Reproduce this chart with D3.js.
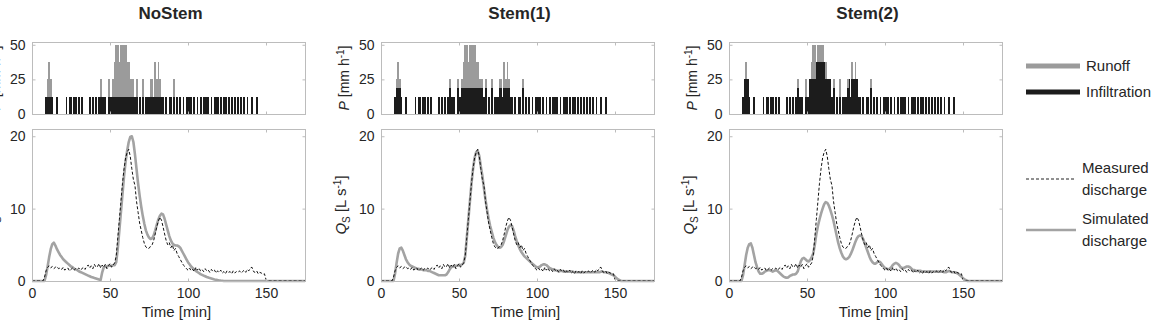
<!DOCTYPE html>
<html>
<head>
<meta charset="utf-8">
<script src="https://cdn.jsdelivr.net/npm/d3@7"></script>
<style>
  body { margin: 0; background: #fff; }
  text { font-family: "Liberation Sans", Arial, sans-serif; fill: #262626; }
</style>
</head>
<body>
<svg id="fig" width="1157" height="323"></svg>
<script>
// rainfall intensity P [mm/h], one value per minute, 0..150
const rain = [
  0,0,0,0,0,0,0,0,0,12.5,
  25,37.5,25,12.5,0,0,12.5,0,0,0,
  0,0,12.5,0,12.5,12.5,0,12.5,12.5,0,
  12.5,0,12.5,0,0,0,0,12.5,0,12.5,
  0,12.5,0,12.5,25,12.5,12.5,12.5,0,25,
  12.5,12.5,25,37.5,50,50,37.5,50,50,50,
  50,37.5,37.5,25,25,25,12.5,25,0,12.5,
  0,25,0,12.5,12.5,12.5,25,25,12.5,37.5,
  25,37.5,25,12.5,12.5,0,12.5,0,12.5,12.5,
  0,25,0,12.5,0,12.5,0,12.5,0,12.5,
  12.5,12.5,12.5,0,12.5,0,12.5,0,12.5,0,
  12.5,12.5,12.5,12.5,0,12.5,0,12.5,12.5,12.5,
  0,12.5,0,12.5,12.5,0,12.5,0,12.5,0,
  12.5,0,12.5,0,12.5,0,12.5,0,12.5,0,
  0,12.5,0,0,12.5,0,0,0,0,0,0
];

// infiltrated part of the rainfall, per scenario (rest is runoff)
const infilNoStem = [
  0,0,0,0,0,0,0,0,0,12.5,
  12.5,12.5,12.5,12.5,0,0,12.5,0,0,0,
  0,0,12.5,0,12.5,12.5,0,12.5,12.5,0,
  12.5,0,12.5,0,0,0,0,12.5,0,12.5,
  0,12.5,0,12.5,12.5,12.5,12.5,12.5,0,12.5,
  12.5,12.5,12.5,12.5,12.5,12.5,12.5,12.5,12.5,12.5,
  12.5,12.5,12.5,12.5,12.5,12.5,12.5,12.5,0,12.5,
  0,12.5,0,12.5,12.5,12.5,12.5,12.5,12.5,12.5,
  12.5,12.5,12.5,12.5,12.5,0,12.5,0,12.5,12.5,
  0,12.5,0,12.5,0,12.5,0,12.5,0,12.5,
  12.5,12.5,12.5,0,12.5,0,12.5,0,12.5,0,
  12.5,12.5,12.5,12.5,0,12.5,0,12.5,12.5,12.5,
  0,12.5,0,12.5,12.5,0,12.5,0,12.5,0,
  12.5,0,12.5,0,12.5,0,12.5,0,12.5,0,
  0,12.5,0,0,12.5,0,0,0,0,0,0
];
const infilStem1 = [
  0,0,0,0,0,0,0,0,0,12.5,
  18.75,18.75,18.75,12.5,0,0,12.5,0,0,0,
  0,0,12.5,0,12.5,12.5,0,12.5,12.5,0,
  12.5,0,12.5,0,0,0,0,12.5,0,12.5,
  0,12.5,0,12.5,18.75,12.5,12.5,12.5,0,18.75,
  12.5,12.5,18.75,18.75,18.75,18.75,18.75,18.75,18.75,18.75,
  18.75,18.75,18.75,18.75,18.75,18.75,12.5,18.75,0,12.5,
  0,18.75,0,12.5,12.5,12.5,18.75,18.75,12.5,18.75,
  18.75,18.75,18.75,12.5,12.5,0,12.5,0,12.5,12.5,
  0,18.75,0,12.5,0,12.5,0,12.5,0,12.5,
  12.5,12.5,12.5,0,12.5,0,12.5,0,12.5,0,
  12.5,12.5,12.5,12.5,0,12.5,0,12.5,12.5,12.5,
  0,12.5,0,12.5,12.5,0,12.5,0,12.5,0,
  12.5,0,12.5,0,12.5,0,12.5,0,12.5,0,
  0,12.5,0,0,12.5,0,0,0,0,0,0
];
const infilStem2 = [
  0,0,0,0,0,0,0,0,0,12.5,
  25,25,25,12.5,0,0,12.5,0,0,0,
  0,0,12.5,0,12.5,12.5,0,12.5,12.5,0,
  12.5,0,12.5,0,0,0,0,12.5,0,12.5,
  0,12.5,0,12.5,18.75,12.5,12.5,12.5,0,12.5,
  12.5,12.5,25,25,25,25,37.5,37.5,37.5,37.5,
  37.5,37.5,25,25,25,25,12.5,18.75,0,12.5,
  0,12.5,0,12.5,12.5,12.5,18.75,25,12.5,25,
  25,25,25,12.5,12.5,0,12.5,0,12.5,12.5,
  0,18.75,0,12.5,0,12.5,0,12.5,0,12.5,
  12.5,12.5,12.5,0,12.5,0,12.5,0,12.5,0,
  12.5,12.5,12.5,12.5,0,12.5,0,12.5,12.5,12.5,
  0,12.5,0,12.5,12.5,0,12.5,0,12.5,0,
  12.5,0,12.5,0,12.5,0,12.5,0,12.5,0,
  0,12.5,0,0,12.5,0,0,0,0,0,0
];

// discharge Qs [L/s], one value per minute, 0..175
const measured = [
  0,0,0,0,0,0,0,0,0.5,1.4,
  1.9,2.1,1.8,2.0,1.7,1.9,2.0,1.7,1.8,1.6,
  1.9,1.5,1.7,1.8,1.4,1.6,1.8,1.5,1.7,1.6,
  1.8,1.5,1.7,1.9,1.6,2.0,2.2,1.8,2.1,1.7,
  2.3,1.9,2.0,2.4,1.8,2.2,1.9,2.3,1.7,2.1,
  2.4,1.9,2.2,2.5,3.5,6.0,8.5,11.0,13.5,15.5,
  17.0,17.8,18.2,17.2,15.5,14.0,13.2,11.0,9.5,8.0,
  7.0,6.0,5.2,4.7,4.5,4.5,4.8,5.0,5.6,6.5,
  7.5,8.3,8.8,8.4,7.5,6.5,5.6,5.0,5.3,4.6,
  5.0,4.2,4.5,3.8,3.4,3.0,2.6,2.2,2.0,1.7,
  1.5,1.8,1.4,1.6,1.3,1.9,1.5,1.8,1.4,1.6,
  1.3,1.7,1.4,1.5,1.2,1.6,1.3,1.5,1.1,1.4,
  1.2,1.5,1.1,1.3,1.0,1.4,1.2,1.3,1.0,1.4,
  1.1,1.3,1.2,1.4,1.1,1.3,1.5,1.2,1.6,1.4,
  1.8,1.9,1.3,1.2,1.4,1.0,1.2,1.1,0.9,1.0,
  0.2,0,0,0,0,0,0,0,0,0,
  0,0,0,0,0,0,0,0,0,0,
  0,0,0,0,0,0
];
const simNoStem = [
  0,0,0,0,0,0,0,0,0,0.8,
  2.0,3.3,4.4,5.1,5.3,4.9,4.4,4.0,3.6,3.3,
  3.0,2.8,2.6,2.4,2.2,2.0,1.9,1.7,1.6,1.5,
  1.35,1.25,1.15,1.05,0.95,0.85,0.75,0.65,0.55,0.5,
  0.42,0.35,0.28,0.2,0.15,1.2,1.9,2.0,2.0,2.1,
  2.1,2.1,2.2,2.2,2.6,4.5,7.0,9.5,12.0,14.5,
  16.5,18.0,19.2,19.9,20.0,19.2,17.5,15.5,13.5,11.8,
  10.3,9.0,7.9,7.0,6.4,6.0,5.8,5.9,6.3,7.0,
  7.8,8.5,9.0,9.3,9.2,8.6,7.8,7.0,6.2,5.6,
  5.2,5.0,4.9,4.9,4.8,4.6,4.2,3.8,3.4,3.0,
  2.6,2.3,2.0,1.8,1.6,1.4,1.25,1.1,0.95,0.85,
  0.75,0.65,0.55,0.48,0.4,0.34,0.28,0.22,0.17,0.12,
  0.08,0.05,0.03,0,0,0,0,0,0,0,
  0,0,0,0,0,0,0,0,0,0,
  0,0,0,0,0,0,0,0,0,0,
  0,0,0,0,0,0,0,0,0,0,
  0,0,0,0,0,0,0,0,0,0,
  0,0,0,0,0,0
];
const simStem1 = [
  0,0,0,0,0,0,0,0,0,1.0,
  2.5,3.8,4.5,4.6,4.2,3.6,3.0,2.6,2.3,2.1,
  2.0,1.9,1.8,1.7,1.7,1.6,1.6,1.5,1.5,1.5,
  1.4,1.4,1.3,1.2,1.1,1.0,0.9,0.8,0.8,0.8,
  0.8,0.8,0.9,1.2,1.6,1.9,2.0,2.0,2.1,2.1,
  2.2,2.2,2.3,2.5,3.5,6.0,8.5,11.0,13.5,15.5,
  17.0,17.8,18.0,17.3,15.8,14.5,12.8,11.2,9.8,8.6,
  7.6,6.8,6.0,5.4,5.0,4.7,4.6,4.7,5.0,5.6,
  6.3,7.0,7.5,7.7,7.6,7.0,6.2,5.5,4.9,4.4,
  4.0,3.7,3.4,3.2,3.0,2.8,2.6,2.4,2.2,2.0,
  1.9,1.9,2.0,2.2,2.3,2.3,2.2,2.0,1.8,1.7,
  1.6,1.5,1.5,1.4,1.4,1.4,1.4,1.3,1.3,1.3,
  1.3,1.3,1.3,1.3,1.2,1.2,1.2,1.2,1.2,1.2,
  1.2,1.2,1.2,1.2,1.2,1.2,1.2,1.2,1.2,1.2,
  1.2,1.3,1.3,1.2,1.2,1.2,1.1,1.0,0.9,0.8,
  0.6,0.4,0.2,0.1,0,0,0,0,0,0,
  0,0,0,0,0,0,0,0,0,0,
  0,0,0,0,0,0
];
const simStem2 = [
  0,0,0,0,0,0,0,0,0,0.8,
  2.2,3.6,4.6,5.1,5.2,4.6,3.6,2.6,1.9,1.3,
  1.0,1.0,1.1,1.3,1.4,1.5,1.5,1.4,1.3,1.4,
  1.5,1.4,1.2,1.0,0.8,0.6,0.5,0.45,0.5,0.7,
  0.8,0.9,0.9,1.0,1.3,2.0,2.7,3.1,3.2,3.0,
  2.8,2.7,2.9,3.3,3.8,5.0,6.5,7.6,8.5,9.3,
  10.0,10.6,10.9,10.8,10.4,9.8,9.1,8.3,7.3,6.3,
  5.3,4.5,3.9,3.4,3.1,3.0,3.1,3.3,3.7,4.2,
  4.8,5.4,5.9,6.2,6.3,6.2,5.8,5.2,4.6,4.0,
  3.4,2.9,2.6,2.4,2.4,2.6,2.7,2.6,2.3,2.0,
  1.8,1.7,1.6,1.7,1.9,2.2,2.4,2.5,2.4,2.2,
  1.9,1.8,1.8,1.9,2.0,2.0,1.9,1.7,1.5,1.5,
  1.4,1.4,1.4,1.4,1.3,1.3,1.3,1.3,1.3,1.3,
  1.3,1.3,1.3,1.3,1.3,1.3,1.3,1.3,1.2,1.2,
  1.3,1.4,1.3,1.2,1.2,1.2,1.1,1.0,0.8,0.6,
  0.4,0.2,0.1,0,0,0,0,0,0,0,
  0,0,0,0,0,0,0,0,0,0,
  0,0,0,0,0,0
];

const titles = ["NoStem", "Stem(1)", "Stem(2)"];
const infils = [infilNoStem, infilStem1, infilStem2];
const sims = [simNoStem, simStem1, simStem2];
const xTicks = [0, 50, 100, 150];
const pTicks = [0, 25, 50];
const qTicks = [0, 10, 20];

// layout
const lefts = [32, 381, 729];
const plotW = 273;
const pTop = 42, pBot = 114;
const qTop = 129, qBot = 281;
const boxColor = "#bcbcbc";
const runoffColor = "#9b9b9b";
const infilColor = "#1c1c1c";
const simColor = "#a3a3a3";

const svg = d3.select("#fig");

function frame(g, x, y, xt, yt, labelX, labelY) {
  const [x0, x1] = x.range();
  const [y0, y1] = y.range();
  g.append("rect")
    .attr("x", x0 + 0.5).attr("y", y1 + 0.5)
    .attr("width", x1 - x0).attr("height", y0 - y1)
    .attr("fill", "none").attr("stroke", boxColor);

  const axes = [
    [d3.axisBottom(x).tickValues(xt), `translate(0,${y0 + 0.5})`, labelX],
    [d3.axisTop(x).tickValues(xt), `translate(0,${y1 + 0.5})`, false],
    [d3.axisLeft(y).tickValues(yt), `translate(${x0 + 0.5},0)`, labelY],
    [d3.axisRight(y).tickValues(yt), `translate(${x1 + 0.5},0)`, false]
  ];
  axes.forEach(([ax, tr, lab]) => {
    const a = g.append("g").attr("transform", tr)
      .call(ax.tickSize(-3).tickPadding(lab ? 7 : 0).tickFormat(lab ? d3.format("d") : ""));
    a.select(".domain").remove();
    a.selectAll(".tick line").attr("stroke", boxColor);
    a.selectAll(".tick text").attr("font-size", 14).attr("fill", "#262626")
      .style("font-family", '"Liberation Sans", Arial, sans-serif');
  });
}

titles.forEach((title, i) => {
  const left = lefts[i];
  const g = svg.append("g");
  const x = d3.scaleLinear().domain([0, 175]).range([left, left + plotW]);
  const yP = d3.scaleLinear().domain([0, 52]).range([pBot, pTop]);
  const yQ = d3.scaleLinear().domain([0, 21]).range([qBot, qTop]);

  // rainfall split into infiltration + runoff, stacked
  const rows = rain.map((r, t) => ({ t, infil: infils[i][t], runoff: r - infils[i][t] }));
  const stack = d3.stack().keys(["infil", "runoff"])(rows);
  const colors = { infil: infilColor, runoff: runoffColor };
  const bw = x(1) - x(0);
  stack.forEach(layer => {
    g.append("g").attr("shape-rendering", "crispEdges")
      .selectAll("rect")
      .data(layer.filter(d => d[1] > d[0]))
      .join("rect")
      .attr("x", d => x(d.data.t) - bw / 2)
      .attr("width", bw + 0.3)
      .attr("y", d => yP(d[1]))
      .attr("height", d => yP(d[0]) - yP(d[1]))
      .attr("fill", colors[layer.key]);
  });
  frame(g, x, yP, xTicks, pTicks, false, true);

  // discharge
  const line = d3.line().x((d, t) => x(t)).y(d => yQ(d));
  g.append("path").datum(sims[i])
    .attr("d", line).attr("fill", "none")
    .attr("stroke", simColor).attr("stroke-width", 2.6)
    .attr("stroke-linejoin", "round");
  g.append("path").datum(measured)
    .attr("d", line).attr("fill", "none")
    .attr("stroke", "#111").attr("stroke-width", 1)
    .attr("stroke-dasharray", "3,2");
  frame(g, x, yQ, xTicks, qTicks, true, true);

  const cx = left + plotW / 2;
  g.append("text").attr("x", cx + 2).attr("y", 19)
    .attr("text-anchor", "middle").attr("font-size", 17).attr("font-weight", "bold")
    .text(title);
  g.append("text").attr("x", cx + 8).attr("y", 317)
    .attr("text-anchor", "middle").attr("font-size", 15)
    .text("Time [min]");

  // y labels
  const pl = g.append("text")
    .attr("transform", `translate(${left - 32},${(pTop + pBot) / 2}) rotate(-90)`)
    .attr("text-anchor", "middle").attr("font-size", 14);
  pl.append("tspan").attr("font-style", "italic").text("P");
  pl.append("tspan").text(" [mm h");
  pl.append("tspan").attr("font-size", 10).attr("dy", -5).text("-1");
  pl.append("tspan").attr("dy", 5).text("]");

  const ql = g.append("text")
    .attr("transform", `translate(${left - 35},${(qTop + qBot) / 2}) rotate(-90)`)
    .attr("text-anchor", "middle").attr("font-size", 15);
  ql.append("tspan").attr("font-style", "italic").text("Q");
  ql.append("tspan").attr("font-size", 10).attr("dy", 4).text("S");
  ql.append("tspan").attr("dy", -4).text(" [L s");
  ql.append("tspan").attr("font-size", 10).attr("dy", -5).text("-1");
  ql.append("tspan").attr("dy", 5).text("]");
});

// legend
const legend = svg.append("g");
const legItems = [
  { y: 66, color: runoffColor, w: 5, dash: null, lines: ["Runoff"], len: 54 },
  { y: 92, color: infilColor, w: 5, dash: null, lines: ["Infiltration"], len: 54 },
  { y: 179, color: "#222", w: 1, dash: "3,2", lines: ["Measured", "discharge"], len: 50 },
  { y: 230, color: simColor, w: 2.4, dash: null, lines: ["Simulated", "discharge"], len: 50 }
];
legItems.forEach(d => {
  legend.append("line")
    .attr("x1", 1026).attr("x2", 1026 + d.len)
    .attr("y1", d.y).attr("y2", d.y)
    .attr("stroke", d.color).attr("stroke-width", d.w)
    .attr("stroke-dasharray", d.dash);
  d.lines.forEach((s, k) => {
    legend.append("text")
      .attr("x", 1026 + d.len + 6)
      .attr("y", d.y + 5 + (k - (d.lines.length - 1) / 2) * 22)
      .attr("font-size", 15)
      .text(s);
  });
});
</script>
</body>
</html>
